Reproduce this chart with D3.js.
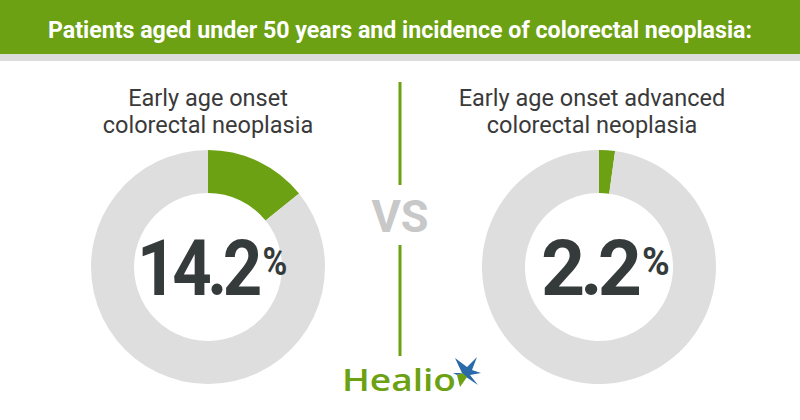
<!DOCTYPE html>
<html>
<head>
<meta charset="utf-8">
<script src="https://cdn.jsdelivr.net/npm/d3@7"></script>
<style>
  html, body { margin: 0; padding: 0; background: #fff; }
  svg { display: block; }
</style>
</head>
<body>
<svg id="chart" width="800" height="420"></svg>
<script>
const title = "Patients aged under 50 years and incidence of colorectal neoplasia:";
const categoryLines = [
  ["Early age onset", "colorectal neoplasia"],
  ["Early age onset advanced", "colorectal neoplasia"]
];
const values = [14.2, 2.2];
const valueLabels = ["14.2", "2.2"];

const green = "#6ba112";
const grey = "#dedede";
const dark = "#353b3b";

const svg = d3.select("#chart");

// header
svg.append("rect").attr("x", 0).attr("y", 0).attr("width", 800).attr("height", 54).attr("fill", green);
svg.append("rect").attr("x", 0).attr("y", 54).attr("width", 800).attr("height", 7).attr("fill", "#dcdcdc");
svg.append("text")
  .attr("x", 400).attr("y", 38)
  .attr("text-anchor", "middle")
  .attr("font-family", "'Liberation Sans Narrow', Roboto, sans-serif")
  .attr("font-weight", "bold")
  .attr("font-size", 23)
  .attr("fill", "#fff")
  .attr("textLength", 704)
  .attr("lengthAdjust", "spacingAndGlyphs")
  .text(title);

// positions of the two panels
const x = d3.scalePoint().domain(d3.range(values.length)).range([208, 599]);
const labelX = [208, 592];
const numStart = [137, 541];
const numWidth = [121, 96];
const cy = 267;
const arc = d3.arc().innerRadius(74).outerRadius(117);
const pie = d3.pie().sort(null).value(d => d);

values.forEach((v, i) => {
  const g = svg.append("g").attr("transform", `translate(${x(i)},${cy})`);
  const slices = pie([v, 100 - v]);
  g.selectAll("path").data(slices).enter().append("path")
    .attr("d", arc)
    .attr("fill", (d, j) => j === 0 ? green : grey);

  // big number with superscript %
  const t = svg.append("text")
    .attr("font-family", "Roboto, sans-serif")
    .attr("font-weight", "bold")
    .attr("fill", dark);
  t.append("tspan").attr("font-size", 78).attr("letter-spacing", -5).text(valueLabels[i]);
  t.append("tspan").attr("font-size", 38).attr("dy", -20).attr("dx", 5).attr("letter-spacing", 0).text("%");
  const w = t.node().getSubStringLength(0, valueLabels[i].length);
  const sx = numWidth[i] / w;
  t.attr("transform", `translate(${numStart[i]},${cy + 28}) scale(${sx},1)`);

  // label
  const lab = svg.append("text")
    .attr("text-anchor", "middle")
    .attr("font-family", "Roboto, sans-serif")
    .attr("font-size", 23.5)
    .attr("fill", "#3a3a3a");
  categoryLines[i].forEach((line, k) => {
    lab.append("tspan").attr("x", labelX[i]).attr("y", 106 + k * 27).text(line);
  });
});

// divider
svg.append("line").attr("x1", 400).attr("x2", 400).attr("y1", 82).attr("y2", 185)
  .attr("stroke", green).attr("stroke-width", 3);
svg.append("line").attr("x1", 400).attr("x2", 400).attr("y1", 245).attr("y2", 356)
  .attr("stroke", green).attr("stroke-width", 3);
svg.append("text")
  .attr("x", 400).attr("y", 232)
  .attr("text-anchor", "middle")
  .attr("font-family", "Roboto, sans-serif")
  .attr("font-weight", "bold")
  .attr("font-size", 45)
  .attr("fill", "#c8c8c8")
  .text("VS");

// Healio logo
svg.append("text")
  .attr("x", 342).attr("y", 391)
  .attr("font-family", "'Open Sans', Roboto, sans-serif")
  .attr("font-weight", 600)
  .attr("font-size", 30)
  .attr("fill", green)
  .attr("textLength", 114)
  .attr("lengthAdjust", "spacingAndGlyphs")
  .text("Healio");
const star = svg.append("g").attr("transform", "translate(466,371)");
star.append("path").attr("d", "M-11,-13 L1,-4 L11,-14 L6,-1 L15,2 L4,4 L12,14 L0,6 L-4,2 Z").attr("fill", "#2a6aa8");
star.append("path").attr("d", "M-4,2 L1,6 L-6,16 L-9,4 Z").attr("fill", green);
star.append("path").attr("d", "M-13,2 L-4,2 L-9,4 Z").attr("fill", "#2a6aa8");
</script>
</body>
</html>
